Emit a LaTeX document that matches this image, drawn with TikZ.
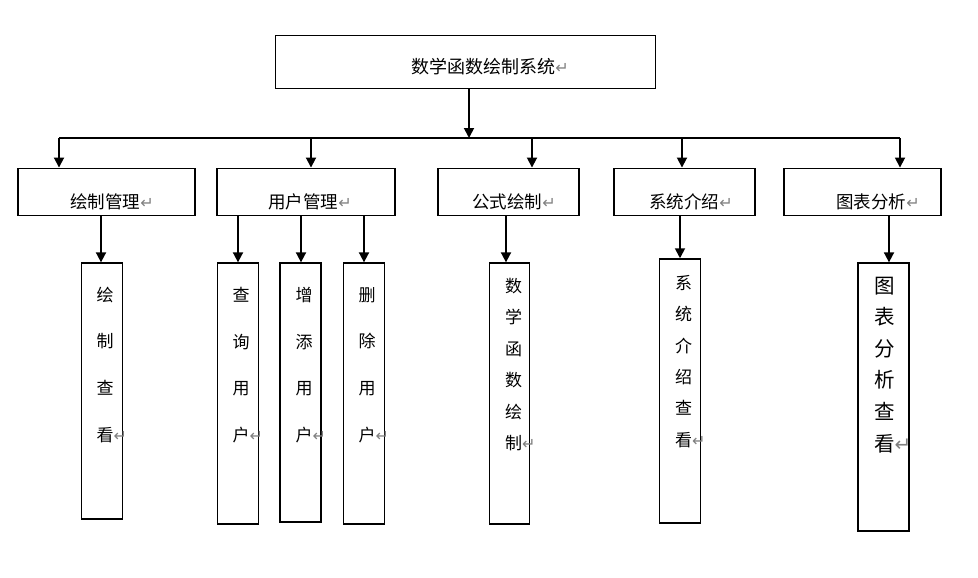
\documentclass[tikz,border=0pt]{standalone}
\usepackage{fontspec}
\newfontfamily\cjk{Noto Sans CJK SC}
\newfontfamily\dvfont{DejaVu Sans}
\usetikzlibrary{arrows.meta}
\newcommand{\retmark}[1][16]{{\dvfont\fontsize{#1}{#1}\selectfont\color{gray}↵}}
\tikzset{
  box/.style={draw, line width=1.9pt, inner sep=0pt},
  arr/.style={line width=1.8pt, -{Triangle[length=10pt,width=10pt]}},
  htxt/.style={inner sep=0pt, font=\cjk\fontsize{17.5}{20}\selectfont},
  vtxt/.style={inner sep=0pt, anchor=north west, align=left, font=\cjk\fontsize{17}{46.7}\selectfont},
  vtxtb/.style={inner sep=0pt, anchor=north west, align=left, font=\cjk\fontsize{17}{31.4}\selectfont},
  vtxtc/.style={inner sep=0pt, anchor=north west, align=left, font=\cjk\fontsize{20.5}{31.6}\selectfont},
}
\begin{document}
\begin{tikzpicture}[x=1pt,y=-1pt]
\useasboundingbox (0,0) rectangle (978,578);
% boxes
\node[box, minimum width=380pt, minimum height=53pt] (top) at (465.5,62) {};
\node[box, minimum width=177pt, minimum height=47pt] (b1) at (106.7,192) {};
\node[box, minimum width=178pt, minimum height=47pt] (b2) at (306.3,192) {};
\node[box, minimum width=141pt, minimum height=47pt] (b3) at (508.8,192) {};
\node[box, minimum width=141pt, minimum height=47pt] (b4) at (684.8,192) {};
\node[box, minimum width=157pt, minimum height=47pt] (b5) at (862.8,192) {};
\node[box, minimum width=41pt, minimum height=256pt] (c1) at (102,391.3) {};
\node[box, minimum width=41pt, minimum height=261pt] (c2) at (238,393.8) {};
\node[box, minimum width=41pt, minimum height=259pt] (c3) at (300.8,392.8) {};
\node[box, minimum width=41pt, minimum height=261pt] (c4) at (364,393.8) {};
\node[box, minimum width=40pt, minimum height=261pt] (c5) at (509.5,393.8) {};
\node[box, minimum width=41pt, minimum height=264pt] (c6) at (680,391.2) {};
\node[box, minimum width=51pt, minimum height=268pt] (c7) at (883.8,397.3) {};
% texts
\node[htxt, font=\cjk\fontsize{18}{20}\selectfont] (ttop) at (490,67) {数学函数绘制系统\retmark};
\node[htxt] (t1) at (112,202) {绘制管理\retmark};
\node[htxt] (t2) at (310,202) {用户管理\retmark};
\node[htxt] (t3) at (514,202) {公式绘制\retmark};
\node[htxt] (t4) at (691,202) {系统介绍\retmark};
\node[htxt] (t5) at (878,202) {图表分析\retmark};
\node[vtxt] (u1) at (96.5,286.5) {绘\\制\\查\\看\retmark};
\node[vtxt] (u2) at (232.5,287) {查\\询\\用\\户\retmark};
\node[vtxt] (u3) at (295.5,287) {增\\添\\用\\户\retmark};
\node[vtxt] (u4) at (358.5,287) {删\\除\\用\\户\retmark};
\node[vtxtb] (u5) at (505,278) {数\\学\\函\\数\\绘\\制\retmark};
\node[vtxtb] (u6) at (675,275) {系\\统\\介\\绍\\查\\看\retmark};
\node[vtxtc] (u7) at (874,276.5) {图\\表\\分\\析\\查\\看\retmark[20]};
% bus coordinates
\coordinate (bm) at (469,138);
\coordinate (d1) at (59,138);
\coordinate (d2) at (311,138);
\coordinate (d3) at (532,138);
\coordinate (d4) at (682,138);
\coordinate (d5) at (900,138);
\coordinate (a1) at (101,216);
\coordinate (a2) at (238,216);
\coordinate (a3) at (301,216);
\coordinate (a4) at (364,216);
\coordinate (a5) at (506,216);
\coordinate (a6) at (680,216);
\coordinate (a7) at (889,216);
% connectors
\draw[arr] (top.south -| bm) -- (bm);
\draw[line width=1.8pt] (d1) -- (d5);
\draw[arr] (d1) -- (d1 |- b1.north);
\draw[arr] (d2) -- (d2 |- b2.north);
\draw[arr] (d3) -- (d3 |- b3.north);
\draw[arr] (d4) -- (d4 |- b4.north);
\draw[arr] (d5) -- (d5 |- b5.north);
\draw[arr] (a1 |- b1.south) -- (a1 |- c1.north);
\draw[arr] (a2 |- b2.south) -- (a2 |- c2.north);
\draw[arr] (a3 |- b2.south) -- (a3 |- c3.north);
\draw[arr] (a4 |- b2.south) -- (a4 |- c4.north);
\draw[arr] (a5 |- b3.south) -- (a5 |- c5.north);
\draw[arr] (a6 |- b4.south) -- (a6 |- c6.north);
\draw[arr] (a7 |- b5.south) -- (a7 |- c7.north);
\end{tikzpicture}
\end{document}
